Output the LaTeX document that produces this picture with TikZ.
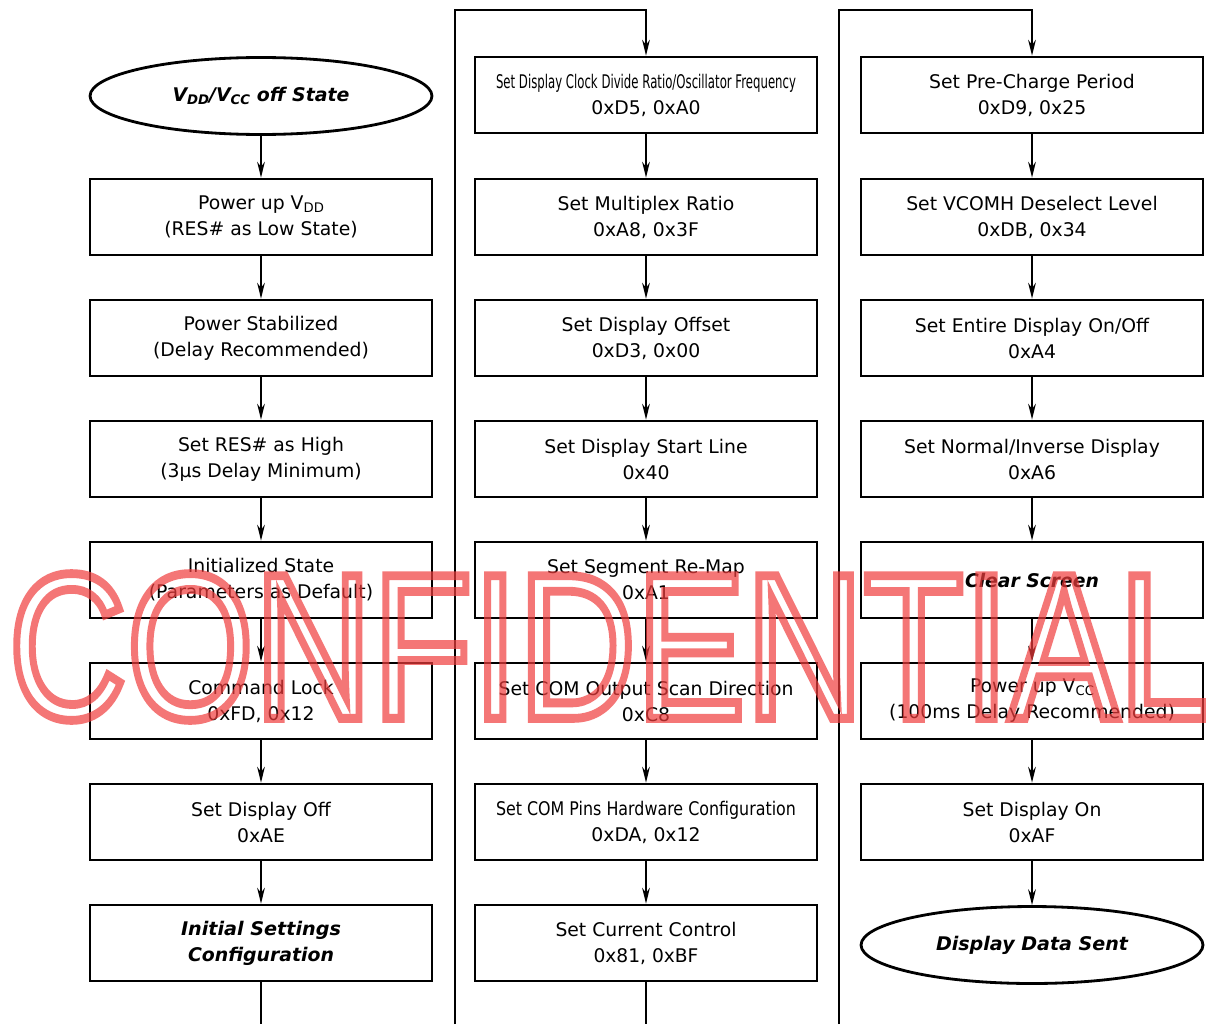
\documentclass[tikz,border=0pt]{standalone}
\usepackage{fontspec}
\usepackage{graphicx}
\setmainfont{DejaVu Sans}
\newfontfamily\wmfont{Liberation Sans}
\usetikzlibrary{arrows.meta,shapes.geometric}
\definecolor{wmred}{RGB}{240,60,60}
\newcommand\subsc[1]{\raisebox{-0.3ex}{\fontsize{7.5}{8}\selectfont #1}}
\newcommand\cond[2]{\resizebox{#1}{\height}{#2}}
\tikzset{
  stepbox/.style={draw, line width=1.6pt, rectangle, minimum width=6.84cm, minimum height=1.52cm,
    align=center, font=\fontsize{10.7}{14.8}\selectfont, inner sep=0pt, fill=white},
  oval/.style={draw, line width=1.6pt, ellipse, minimum width=6.84cm, minimum height=1.54cm,
    inner sep=0pt, align=center, font=\bfseries\itshape\fontsize{10.7}{14.8}\selectfont, fill=white},
  flow/.style={line width=1pt, -{Stealth[length=9pt,width=4.4pt]}},
  link/.style={line width=1pt},
  bi/.style={font=\bfseries\itshape\fontsize{10.7}{14.8}\selectfont},
}
\begin{document}
\begin{tikzpicture}[x=0.02cm,y=-0.02cm]
\useasboundingbox[fill=white] (0,0) rectangle (1206,1024);
% column 1
\node[oval] (a1) at (261,96) {\cond{3.54cm}{V\subsc{DD}/V\subsc{CC} off State}};
\node[stepbox] (a2) at (261,217) {Power up V\subsc{DD}\\(RES\# as Low State)};
\node[stepbox] (a3) at (261,338) {Power Stabilized\\(Delay Recommended)};
\node[stepbox] (a4) at (261,459) {Set RES\# as High\\(3µs Delay Minimum)};
\node[stepbox] (a5) at (261,580) {Initialized State\\(Parameters as Default)};
\node[stepbox] (a6) at (261,701) {Command Lock\\0xFD, 0x12};
\node[stepbox] (a7) at (261,822) {Set Display Off\\0xAE};
\node[stepbox, bi] (a8) at (261,943) {\cond{3.2cm}{Initial Settings}\\\cond{2.92cm}{Configuration}};
% column 2
\node[stepbox] (b1) at (646,95) {\cond{6cm}{Set Display Clock Divide Ratio/Oscillator Frequency}\\0xD5, 0xA0};
\node[stepbox] (b2) at (646,217) {Set Multiplex Ratio\\0xA8, 0x3F};
\node[stepbox] (b3) at (646,338) {Set Display Offset\\0xD3, 0x00};
\node[stepbox] (b4) at (646,459) {Set Display Start Line\\0x40};
\node[stepbox] (b5) at (646,580) {Set Segment Re-Map\\0xA1};
\node[stepbox] (b6) at (646,701) {Set COM Output Scan Direction\\0xC8};
\node[stepbox] (b7) at (646,822) {\cond{6cm}{Set COM Pins Hardware Configuration}\\0xDA, 0x12};
\node[stepbox] (b8) at (646,943) {\cond{3.62cm}{Set Current Control}\\\cond{2.1cm}{0x81, 0xBF}};
% column 3
\node[stepbox] (c1) at (1032,95) {Set Pre-Charge Period\\0xD9, 0x25};
\node[stepbox] (c2) at (1032,217) {Set VCOMH Deselect Level\\0xDB, 0x34};
\node[stepbox] (c3) at (1032,338) {Set Entire Display On/Off\\0xA4};
\node[stepbox] (c4) at (1032,459) {Set Normal/Inverse Display\\0xA6};
\node[stepbox, bi] (c5) at (1032,580) {\cond{2.68cm}{Clear Screen}};
\node[stepbox] (c6) at (1032,701) {Power up V\subsc{CC}\\(100ms Delay Recommended)};
\node[stepbox] (c7) at (1032,822) {Set Display On\\0xAF};
\node[oval] (c8) at (1032,945) {\cond{3.84cm}{Display Data Sent}};
% vertical flows
\foreach \c in {a,b,c}{
  \foreach \i [evaluate=\i as \j using int(\i+1)] in {1,...,7}{
    \draw[flow] (\c\i.south) -- (\c\j.north);
  }
}
% exits and feeders
\coordinate (aout) at (261,1024);
\coordinate (bout) at (646,1024);
\coordinate (bin) at (455,1024);
\coordinate (cin) at (839,1024);
\coordinate (btop) at (646,10);
\coordinate (ctop) at (1032,10);
\draw[link] (a8.south) -- (aout);
\draw[link] (b8.south) -- (bout);
\draw[flow] (bin) |- (btop) -- (b1.north);
\draw[flow] (cin) |- (ctop) -- (c1.north);
% watermark
\node[text=wmred, opacity=0.7, inner sep=0pt] (wm) at (609,647)
  {\scalebox{0.79}[1]{\wmfont\fontsize{118}{118}\selectfont\special{pdf:literal direct 1 Tr 5 w}CONFIDENTIAL\special{pdf:literal direct 0 Tr}}};
\end{tikzpicture}
\end{document}
